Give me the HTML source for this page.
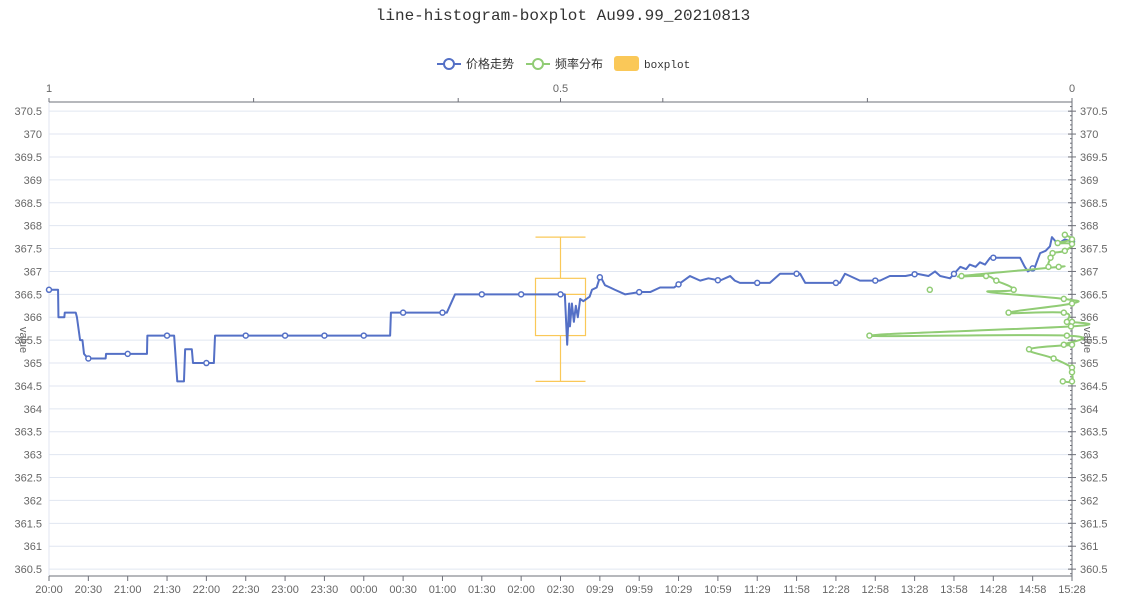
<!DOCTYPE html>
<html><head><meta charset="utf-8"><style>
body{margin:0;background:#fff;}
svg{display:block;font-family:"Liberation Sans","Noto Sans CJK SC",sans-serif;}
.t{font-size:11px;fill:#666;}
</style></head><body>
<svg id="c" width="1127" height="615">
<text x="563" y="20" text-anchor="middle" style="font-family:'Liberation Mono','Noto Sans CJK SC',monospace;font-size:16px;fill:#333">line-histogram-boxplot Au99.99_20210813</text>
<g>
 <g><line x1="437" y1="64" x2="461" y2="64" stroke="#5470c6" stroke-width="2"/><circle cx="449" cy="64" r="5" fill="#fff" stroke="#5470c6" stroke-width="2"/><text x="466" y="68" style="font-size:12px;fill:#333">价格走势</text></g>
 <g><line x1="526" y1="64" x2="550" y2="64" stroke="#91cc75" stroke-width="2"/><circle cx="538" cy="64" r="5" fill="#fff" stroke="#91cc75" stroke-width="2"/><text x="555" y="68" style="font-size:12px;fill:#333">频率分布</text></g>
 <g><rect x="614" y="56" width="25" height="15" rx="3" fill="#fac858"/><text x="644" y="68" style="font-family:'Liberation Mono',monospace;font-size:11px;fill:#333">boxplot</text></g>
</g>
<g id="grid"></g>
<g id="axes"></g>
<g id="series"></g>
</svg>
<script>
const categories=["20:00","20:30","21:00","21:30","22:00","22:30","23:00","23:30","00:00","00:30","01:00","01:30","02:00","02:30","09:29","09:59","10:29","10:59","11:29","11:58","12:28","12:58","13:28","13:58","14:28","14:58","15:28"];
const yTicks=[360.5,361,361.5,362,362.5,363,363.5,364,364.5,365,365.5,366,366.5,367,367.5,368,368.5,369,369.5,370,370.5];
const topTicks=[1,0.8,0.6,0.5,0.4,0.2,0];
const topLabels=[1,0.5,0];
const priceT=[0,.23,.24,.39,.40,.68,.71,.79,.85,.89,.99,1.44,1.45,2.49,2.50,3.13,3.18,3.26,3.43,3.46,3.63,3.66,4.19,4.22,8.67,8.69,10.11,10.32,13.11,13.17,13.22,13.24,13.29,13.34,13.39,13.44,13.50,13.58,13.74,13.80,13.92,14.01,14.13,14.26,14.38,14.64,15.02,15.28,15.53,15.89,16.29,16.55,16.76,17.05,17.31,17.43,17.56,18.07,18.32,18.58,19.09,19.22,20.10,20.23,20.61,21.12,21.37,21.77,22.06,22.35,22.52,22.65,22.90,23.16,23.31,23.40,23.55,23.66,23.79,23.92,24.27,24.68,24.80,24.88,25.06,25.19,25.33,25.44,25.49,25.64,25.82,26];
const priceV=[366.6,366.6,366.0,366.0,366.1,366.1,366.0,365.5,365.5,365.2,365.1,365.1,365.2,365.2,365.6,365.6,365.6,364.6,364.6,365.3,365.3,365.0,365.0,365.6,365.6,366.1,366.1,366.5,366.5,365.4,366.3,365.8,366.3,365.9,366.25,366.0,366.4,366.35,366.45,366.6,366.65,366.9,366.7,366.65,366.6,366.5,366.55,366.55,366.65,366.65,366.9,366.8,366.85,366.8,366.9,366.8,366.75,366.75,366.75,366.95,366.95,366.75,366.75,366.95,366.8,366.8,366.9,366.9,366.95,366.9,367.0,366.9,366.85,367.1,367.05,367.15,367.1,367.2,367.15,367.3,367.3,367.3,367.1,367.0,367.1,367.4,367.45,367.55,367.75,367.6,367.7,367.65];
const histPrice=[367.80,367.70,367.62,367.60,367.45,367.40,367.30,367.10,367.10,366.90,366.90,366.80,366.60,366.55,366.40,366.30,366.10,366.10,365.90,365.90,365.80,365.60,365.60,365.40,365.40,365.30,365.10,364.90,364.80,364.60,364.60];
const histFreq=[0.007,0.0,0.014,0.0,0.007,0.019,0.021,0.023,0.013,0.108,0.084,0.074,0.057,0.081,0.008,0.0,0.062,0.008,0.005,0.0,0.001,0.198,0.005,0.008,0.0,0.042,0.018,0.0,0.0,0.0,0.009];
const histMarker=[1,1,1,1,1,1,1,1,1,1,1,1,1,0,1,1,1,1,1,1,1,1,1,1,1,1,1,1,1,1,1];
const outlierPrice=[366.6];const outlierFreq=[0.139];
const boxStats=[364.6,365.6,366.5,366.85,367.75];const boxPos=13;

const L=49,R=1072,T=102,B=576,Y0=360.35,Y1=370.7;
const sx=i=>L+i*(R-L)/(categories.length-1);
const sy=v=>B-(v-Y0)/(Y1-Y0)*(B-T);
const sf=f=>R-f*(R-L);
const NS="http://www.w3.org/2000/svg";
function mk(p,tag,at){const e=document.createElementNS(NS,tag);for(const k in at)e.setAttribute(k,at[k]);p.appendChild(e);return e;}
const grid=document.getElementById('grid'),axes=document.getElementById('axes'),ser=document.getElementById('series');
yTicks.forEach(v=>{
 const g=mk(grid,'line',{x1:L,x2:R,y1:sy(v),y2:sy(v),stroke:'#e0e6f1'});
 
 
 const t=mk(axes,'text',{x:L-7,y:sy(v)+4,'text-anchor':'end',class:'t'});t.textContent=v;
 
 
 const t2=mk(axes,'text',{x:R+8,y:sy(v)+4,class:'t'});t2.textContent=v;
 
 
 mk(axes,'line',{x1:R-4,x2:R+4,y1:sy(v),y2:sy(v),stroke:'#6e7079'});
});
for(let v=360.4;v<370.7;v+=0.1){mk(axes,'line',{x1:R-2,x2:R,y1:sy(v),y2:sy(v),stroke:'#6e7079'});}
mk(grid,'line',{x1:L,x2:L,y1:T,y2:B,stroke:'#e0e6f1'});
mk(axes,'line',{x1:R,x2:R,y1:T,y2:B,stroke:'#6e7079'});
mk(axes,'line',{x1:L,x2:R,y1:B,y2:B,stroke:'#6e7079'});
mk(axes,'line',{x1:L,x2:R,y1:T,y2:T,stroke:'#6e7079'});
categories.forEach((c,i)=>{
 mk(axes,'line',{x1:sx(i),x2:sx(i),y1:B,y2:B+5,stroke:'#6e7079'});
 const t=mk(axes,'text',{x:sx(i),y:B+17,'text-anchor':'middle',class:'t'});t.textContent=c;
 
 
});
topTicks.forEach(f=>mk(axes,'line',{x1:sf(f),x2:sf(f),y1:T,y2:T-4,stroke:'#6e7079'}));
topLabels.forEach(f=>{const t=mk(axes,'text',{x:sf(f),y:T-10,'text-anchor':'middle',class:'t'});t.textContent=f;
 
 });
[[20,'rotate(90 20 340)'],[1084,'rotate(90 1084 340)']].forEach(([x,tr])=>{const t=mk(axes,'text',{x:x,y:340,'text-anchor':'middle',transform:tr,class:'t'});t.textContent='value';
 
 });
// boxplot
const bx=sx(boxPos),bw=25,bc='#fac858';
const bg=mk(ser,'g',{});


mk(bg,'rect',{x:bx-bw,y:sy(boxStats[3]),width:2*bw,height:sy(boxStats[1])-sy(boxStats[3]),fill:'none',stroke:bc,'stroke-width':1.2});
[[0,1],[3,4]].forEach(([a,b])=>mk(bg,'line',{x1:bx,x2:bx,y1:sy(boxStats[a]),y2:sy(boxStats[b]),stroke:bc,'stroke-width':1.2}));
[0,2,4].forEach(k=>mk(bg,'line',{x1:bx-bw,x2:bx+bw,y1:sy(boxStats[k]),y2:sy(boxStats[k]),stroke:bc,'stroke-width':1.2}));
// price line
const pp=priceT.map((t,i)=>[sx(t),sy(priceV[i])]);
const pl=mk(ser,'path',{d:'M'+pp.map(p=>p.join(',')).join('L'),fill:'none',stroke:'#5470c6','stroke-width':2,'stroke-linejoin':'round'});


function priceAt(t){for(let i=1;i<priceT.length;i++){if(priceT[i]>=t){const a=priceT[i-1],b=priceT[i];const r=b===a?1:(t-a)/(b-a);return priceV[i-1]+(priceV[i]-priceV[i-1])*r;}}return priceV[priceV.length-1];}
for(let i=0;i<categories.length;i++){const c=mk(ser,'circle',{cx:sx(i),cy:sy(priceAt(i)),r:2.5,fill:'#fff',stroke:'#5470c6','stroke-width':1.5});
 
 }
// histogram smooth curve
const hp=histPrice.map((v,i)=>[sf(histFreq[i]),sy(v)]);
let d='M'+hp[0].join(',');
for(let i=0;i<hp.length-1;i++){const p0=hp[Math.max(0,i-1)],p1=hp[i],p2=hp[i+1],p3=hp[Math.min(hp.length-1,i+2)];
 const k=0.2;d+=`C${p1[0]+(p2[0]-p0[0])*k},${p1[1]+(p2[1]-p0[1])*k} ${p2[0]-(p3[0]-p1[0])*k},${p2[1]-(p3[1]-p1[1])*k} ${p2[0]},${p2[1]}`;}
const hl=mk(ser,'path',{d:d,fill:'none',stroke:'#91cc75','stroke-width':2});


hp.forEach((p,i)=>{if(!histMarker[i])return;const c=mk(ser,'circle',{cx:p[0],cy:p[1],r:2.5,fill:'#fff',stroke:'#91cc75','stroke-width':1.5});
 
 });
outlierPrice.forEach((v,i)=>{const c=mk(ser,'circle',{cx:sf(outlierFreq[i]),cy:sy(v),r:2.5,fill:'#fff',stroke:'#91cc75','stroke-width':1.5});
 
 });
</script>
</body></html>
